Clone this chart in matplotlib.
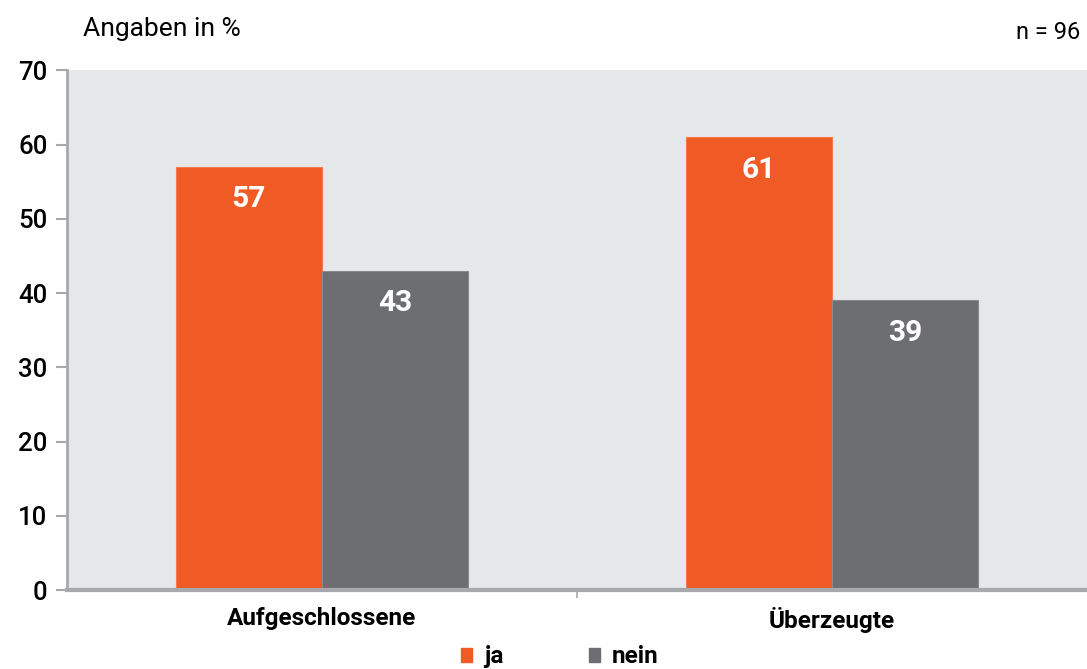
import matplotlib
matplotlib.use("Agg")
import matplotlib.pyplot as plt
import numpy as np
from matplotlib.patches import Patch

categories = ["Aufgeschlossene", "Überzeugte"]
ja = [57, 61]
nein = [43, 39]
series_names = ["ja", "nein"]

plt.rcParams['font.family'] = ['Roboto', 'DejaVu Sans']

orange = "#F05A24"
grey = "#6D6E71"
bg = "#E6E7E9"
axis_col = "#A7A9AC"

fig = plt.figure(figsize=(10.87, 6.69), dpi=100)
ax = fig.add_axes([0.0616, 0.118, 0.9384, 0.777])
ax.set_facecolor(bg)

x = np.arange(len(categories))
w = 0.287
b1 = ax.bar(x - w / 2, ja, w, color=orange, edgecolor="#F37B4F", linewidth=0.8)
b2 = ax.bar(x + w / 2, nein, w, color=grey, edgecolor="#8A8B8E", linewidth=0.8)

for bars, vals in [(b1, ja), (b2, nein)]:
    for r, v in zip(bars, vals):
        ax.text(r.get_x() + r.get_width() / 2, v - 4.4, str(v), ha="center", va="center",
                color="white", fontsize=21.5, fontweight="bold")

ax.set_xlim(-0.5, 1.5)
ax.set_ylim(0, 70)
ax.set_yticks(range(0, 71, 10))
ax.tick_params(axis="y", length=8, width=1.5, color=axis_col, labelsize=18.5, pad=6)
for lab in ax.get_yticklabels():
    lab.set_fontweight("medium")
ax.set_xticks(x)
ax.set_xticklabels(categories, fontsize=17.5, fontweight="bold")
ax.tick_params(axis="x", length=0, pad=12)
ax.set_xticks([0.5], minor=True)
ax.tick_params(axis="x", which="minor", length=6, width=1.2, color=axis_col)

for s in ["top", "right"]:
    ax.spines[s].set_visible(False)
ax.spines["left"].set_color(axis_col)
ax.spines["left"].set_linewidth(2)
ax.spines["bottom"].set_color(axis_col)
ax.spines["bottom"].set_linewidth(3)

fig.text(0.076, 0.957, "Angaben in %", fontsize=19, va="center")
fig.text(0.994, 0.951, "n = 96", fontsize=17, ha="right", va="center")

handles = [Patch(color=orange, label=series_names[0]), Patch(color=grey, label=series_names[1])]
leg = fig.legend(handles=handles, loc="center", bbox_to_anchor=(0.515, 0.018), ncol=2,
                 frameon=False, handlelength=0.45, handleheight=0.55, handletextpad=0.5,
                 columnspacing=3.5, prop={"weight": "bold", "size": 17.5})

fig.savefig("out.png", dpi=100)
